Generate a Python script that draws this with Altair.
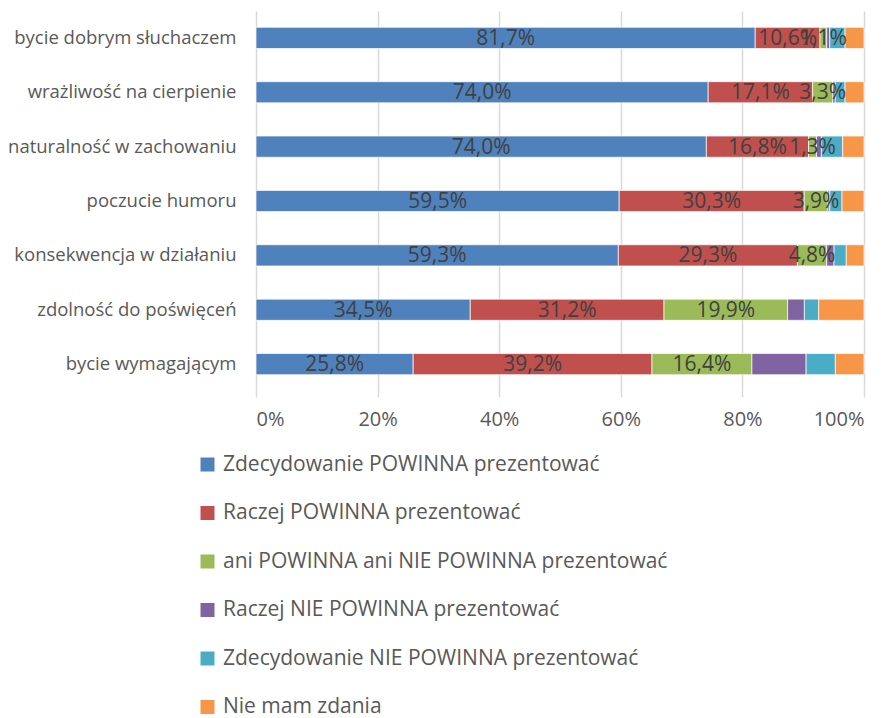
import altair as alt
import pandas as pd

categories = [
    "bycie dobrym słuchaczem",
    "wrażliwość na cierpienie",
    "naturalność w zachowaniu",
    "poczucie humoru",
    "konsekwencja w działaniu",
    "zdolność do poświęceń",
    "bycie wymagającym",
]
series = [
    "Zdecydowanie POWINNA prezentować",
    "Raczej POWINNA prezentować",
    "ani POWINNA ani NIE POWINNA prezentować",
    "Raczej NIE POWINNA prezentować",
    "Zdecydowanie NIE POWINNA prezentować",
    "Nie mam zdania",
]
colors = ["#4F81BD", "#C0504D", "#9BBB59", "#8064A2", "#4BACC6", "#F79646"]

zdecydowanie_powinna = [81.7, 74.0, 74.0, 59.5, 59.3, 34.5, 25.8]
raczej_powinna = [10.6, 17.1, 16.8, 30.3, 29.3, 31.2, 39.2]
ani_ani = [1.1, 3.3, 1.3, 3.9, 4.8, 19.9, 16.4]
raczej_nie = [0.5, 0.4, 0.8, 0.3, 1.2, 2.7, 8.9]
zdecydowanie_nie = [2.5, 1.6, 3.5, 2.0, 2.0, 2.3, 4.8]
nie_mam_zdania = [3.1, 3.1, 3.5, 3.6, 2.9, 7.3, 4.7]

values_by_series = [zdecydowanie_powinna, raczej_powinna, ani_ani,
                    raczej_nie, zdecydowanie_nie, nie_mam_zdania]
labelled_series = series[:3]

rows = []
for si, (s, vals) in enumerate(zip(series, values_by_series)):
    for c, v in zip(categories, vals):
        rows.append({"kategoria": c, "seria": s, "ord": si, "wartosc": v})
df = pd.DataFrame(rows)

FONT = "Open Sans"
TXT = "#595959"

base = alt.Chart(df).transform_joinaggregate(
    total="sum(wartosc)", groupby=["kategoria"]
).transform_calculate(
    pct="datum.wartosc / datum.total",
    lab="replace(format(datum.wartosc, '.1f'), '.', ',') + '%'",
).transform_stack(
    stack="pct", groupby=["kategoria"], as_=["x0", "x1"],
    sort=[alt.SortField("ord", order="ascending")],
).transform_calculate(
    xm="(datum.x0 + datum.x1) / 2"
)

y_enc = alt.Y(
    "kategoria:N", sort=categories, title=None,
    scale=alt.Scale(paddingInner=0.61, paddingOuter=0.3),
    axis=alt.Axis(domain=False, ticks=False, labelPadding=20,
                  labelFontSize=18.5, labelColor=TXT, labelFont=FONT,
                  labelLimit=300, grid=False),
)

bars = base.mark_bar().encode(
    x=alt.X("x0:Q", title=None, scale=alt.Scale(domain=[0, 1], nice=False),
            axis=alt.Axis(format=".0%", values=[0, 0.2, 0.4, 0.6, 0.8, 1.0],
                          domain=False, grid=True, gridColor="#D9D9D9",
                          gridWidth=1.5, ticks=True, tickColor="#D9D9D9",
                          tickSize=6, tickWidth=1.5, labelPadding=12,
                          labelFontSize=20, labelColor=TXT, labelFont=FONT)),
    x2="x1:Q",
    y=y_enc,
    color=alt.Color("seria:N", sort=series, title=None,
                    scale=alt.Scale(domain=series, range=colors),
                    legend=alt.Legend(orient="none", legendX=-59, legendY=443,
                                      direction="vertical", symbolType="square",
                                      symbolSize=196, symbolStrokeWidth=0,
                                      labelFontSize=21, labelColor=TXT,
                                      labelFont=FONT, rowPadding=26.5,
                                      labelOffset=5, labelLimit=600)),
    order=alt.Order("ord:Q"),
    stroke=alt.value("white"),
    strokeWidth=alt.value(0.7),
)

texts = base.transform_filter(
    alt.FieldOneOfPredicate(field="seria", oneOf=labelled_series)
).mark_text(fontSize=21, font=FONT, color="#404040", baseline="middle", dy=1).encode(
    x=alt.X("xm:Q"),
    y=alt.Y("kategoria:N", sort=categories),
    text="lab:N",
)

chart = alt.layer(bars, texts).properties(
    width=608, height=380,
    autosize=alt.AutoSizeParams(type="none"),
    padding={"left": 248, "top": 3, "right": 13, "bottom": 327},
).configure_view(stroke=None)

chart.save("out.html", embed_options={"renderer": "svg", "actions": False})
